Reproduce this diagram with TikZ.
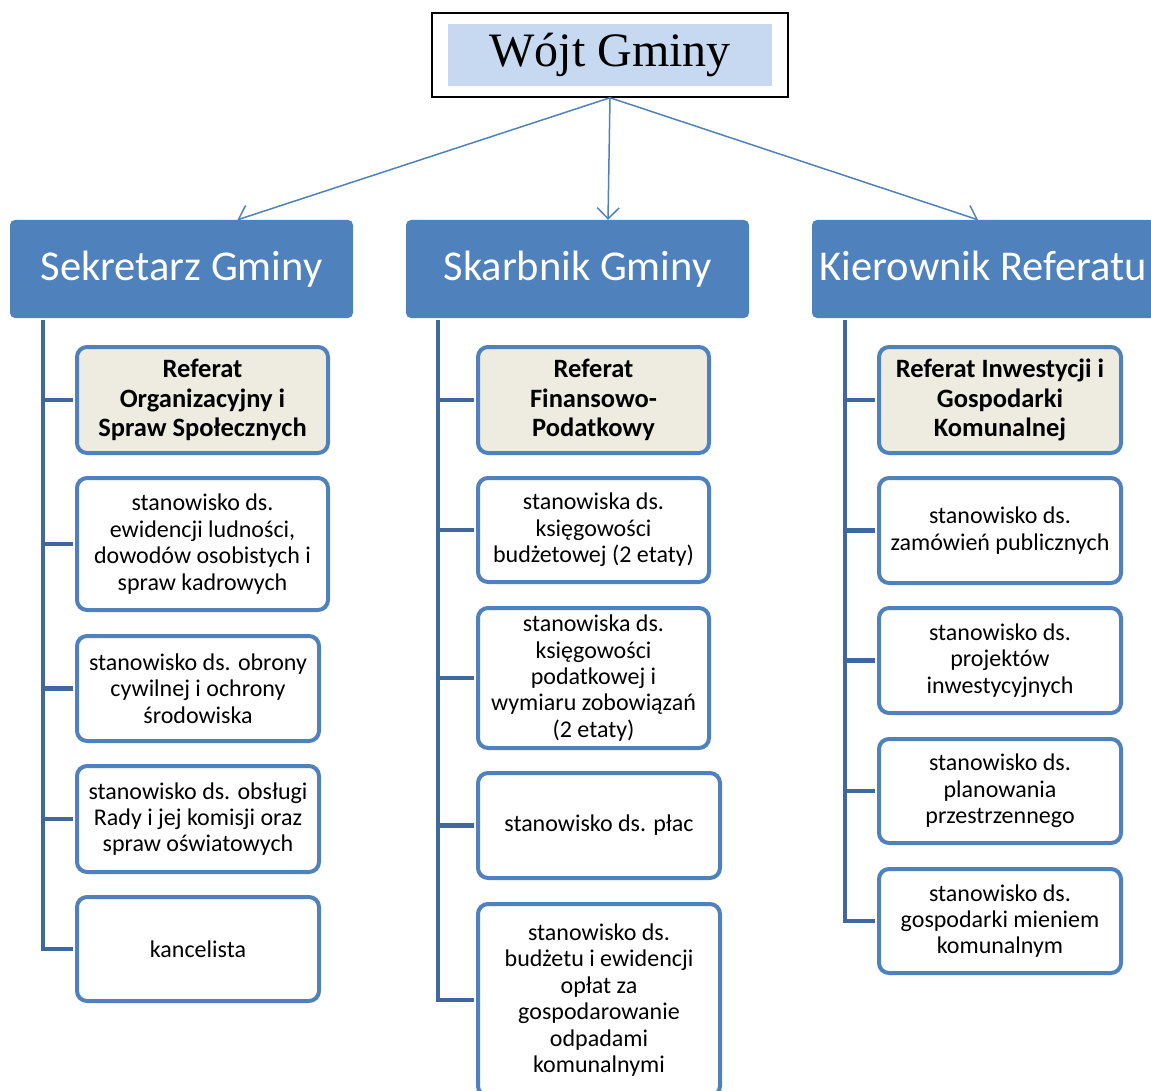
\documentclass[tikz,border=0pt]{standalone}
\usepackage{fontspec}
\setmainfont{Carlito}
\newfontfamily\wojtfont{Liberation Serif}
\usetikzlibrary{positioning,arrows.meta}

\definecolor{hdrblue}{HTML}{4F81BD}
\definecolor{trunkblue}{HTML}{41689C}
\definecolor{refbg}{HTML}{EEECE1}
\definecolor{wojtbg}{HTML}{C6D9F1}

\tikzset{
  header/.style={fill=hdrblue, text=white, rounded corners=5pt,
    minimum width=343pt, minimum height=98pt, inner sep=2pt,
    text height=32pt, text depth=8pt,
    font=\fontsize{42.5}{50}\selectfont},
  unit/.style={draw=hdrblue, line width=4pt, rounded corners=10pt, fill=white,
    align=center, inner sep=2pt, font=\fontsize{24}{26.4}\selectfont},
  referat/.style={unit, fill=refbg, font=\fontsize{26.5}{29.5}\selectfont\bfseries},
  trunk/.style={draw=trunkblue, line width=4.5pt, shorten >=2pt},
  link/.style={draw=hdrblue, line width=1.5pt,
    -{Straight Barb[length=11pt,width=22pt,line width=1.5pt]}}
}

\begin{document}
\begin{tikzpicture}[x=1pt,y=-1pt]
  \useasboundingbox (0,0) rectangle (1151,1091);
  \clip (0,0) rectangle (1151,1091);

  % top box
  \node[draw=black, line width=1.5pt, minimum width=356pt, minimum height=84pt] (wojt) at (610,55) {};
  \node[fill=wojtbg, minimum width=324pt, minimum height=62pt, inner sep=0pt,
        font=\wojtfont\fontsize{48}{54}\selectfont] (wojttxt) at (610,55) {Wójt Gminy};

  % headers
  \node[header] (sek) at (181.5,269) {Sekretarz Gminy};
  \node[header] (skarb) at (577.5,269) {Skarbnik Gminy};
  \node[header] (kier) at (983.5,269) {Kierownik Referatu};

  % arrows from the top
  \draw[link] (wojt.south) -- ([xshift=56pt]sek.north);
  \draw[link] (wojt.south) -- ([xshift=30.5pt]skarb.north);
  \draw[link] (wojt.south) -- ([xshift=-5.5pt]kier.north);

  % left column
  \node[referat, minimum width=251pt, minimum height=106pt] (l1) at (202.5,400)
    {Referat\\Organizacyjny i\\Spraw Społecznych};
  \node[unit, minimum width=251pt, minimum height=132pt] (l2) at (202.5,544)
    {stanowisko ds.\\ewidencji ludności,\\dowodów osobistych i\\spraw kadrowych};
  \node[unit, minimum width=242pt, minimum height=105pt] (l3) at (198,688.5)
    {stanowisko ds. obrony\\cywilnej i ochrony\\środowiska};
  \node[unit, minimum width=242pt, minimum height=106pt] (l4) at (198,819)
    {stanowisko ds. obsługi\\Rady i jej komisji oraz\\spraw oświatowych};
  \node[unit, minimum width=242pt, minimum height=104pt] (l5) at (198,949)
    {kancelista};

  % middle column
  \node[referat, minimum width=231pt, minimum height=106pt] (m1) at (593.5,400)
    {Referat\\Finansowo-\\Podatkowy};
  \node[unit, minimum width=231pt, minimum height=104pt] (m2) at (593.5,530)
    {stanowiska ds.\\księgowości\\budżetowej (2 etaty)};
  \node[unit, minimum width=231pt, minimum height=140pt] (m3) at (593.5,678)
    {stanowiska ds.\\księgowości\\podatkowej i\\wymiaru zobowiązań\\(2 etaty)};
  \node[unit, minimum width=242pt, minimum height=105pt] (m4) at (599,825.5)
    {stanowisko ds. płac};
  \node[unit, minimum width=242pt, minimum height=192pt] (m5) at (599,1000)
    {stanowisko ds.\\budżetu i ewidencji\\opłat za\\gospodarowanie\\odpadami\\komunalnymi};

  % right column
  \node[referat, minimum width=242pt, minimum height=106pt] (r1) at (1000,400)
    {Referat Inwestycji i\\Gospodarki\\Komunalnej};
  \node[unit, minimum width=242pt, minimum height=105pt] (r2) at (1000,530.5)
    {stanowisko ds.\\zamówień publicznych};
  \node[unit, minimum width=242pt, minimum height=105pt] (r3) at (1000,660.5)
    {stanowisko ds.\\projektów\\inwestycyjnych};
  \node[unit, minimum width=242pt, minimum height=104pt] (r4) at (1000,791)
    {stanowisko ds.\\planowania\\przestrzennego};
  \node[unit, minimum width=242pt, minimum height=104pt] (r5) at (1000,921)
    {stanowisko ds.\\gospodarki mieniem\\komunalnym};

  % trunks
  \coordinate (tl) at (43,320);
  \coordinate (tm) at (438,320);
  \coordinate (tr) at (845,320);
  \foreach \b in {l1,l2,l3,l4} \draw[trunk] (tl |- \b.west) -- (\b.west);
  \draw[trunk] (tl) |- (l5.west);
  \foreach \b in {m1,m2,m3,m4} \draw[trunk] (tm |- \b.west) -- (\b.west);
  \draw[trunk] (tm) |- (m5.west);
  \foreach \b in {r1,r2,r3,r4} \draw[trunk] (tr |- \b.west) -- (\b.west);
  \draw[trunk] (tr) |- (r5.west);
\end{tikzpicture}
\end{document}
